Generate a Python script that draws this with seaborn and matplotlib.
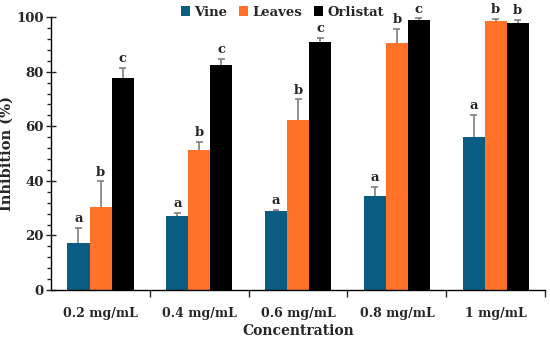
import numpy as np
import pandas as pd
import matplotlib
matplotlib.use('Agg')
import matplotlib.pyplot as plt
import seaborn as sns
from matplotlib.ticker import MultipleLocator

# data
concentrations = ['0.2 mg/mL', '0.4 mg/mL', '0.6 mg/mL', '0.8 mg/mL', '1 mg/mL']
groups = ['Vine', 'Leaves', 'Orlistat']
vine = [17.4, 27.2, 28.8, 34.6, 55.9]
leaves = [30.4, 51.4, 62.2, 90.4, 98.5]
orlistat = [77.7, 82.6, 90.7, 98.8, 97.7]
vine_err = [5.5, 1.2, 0.6, 3.1, 8.4]
leaves_err = [9.4, 2.9, 7.7, 5.2, 0.8]
orlistat_err = [3.8, 2.0, 1.7, 0.7, 1.3]
vine_sig = ['a', 'a', 'a', 'a', 'a']
leaves_sig = ['b', 'b', 'b', 'b', 'b']
orlistat_sig = ['c', 'c', 'c', 'c', 'b']

colors = ['#0a5c82', '#ff7227', '#000000']

sns.set_theme(style='white')
plt.rcParams['font.family'] = ['DejaVu Serif']
plt.rcParams['font.weight'] = 'bold'

df = pd.DataFrame({
    'Concentration': concentrations * 3,
    'Group': np.repeat(groups, len(concentrations)),
    'Value': vine + leaves + orlistat,
})
errs = [vine_err, leaves_err, orlistat_err]
sigs = [vine_sig, leaves_sig, orlistat_sig]

fig = plt.figure(figsize=(5.5, 3.42), dpi=100)
ax = fig.add_axes([0.093, 0.152, 0.898, 0.798])
sns.barplot(data=df, x='Concentration', y='Value', hue='Group', order=concentrations,
            hue_order=groups, palette=colors, width=0.67, saturation=1, errorbar=None,
            edgecolor='none', ax=ax)

# upward-only error bars with a cap, plus significance letters
for cont, err, sig in zip(ax.containers, errs, sigs):
    xs = np.array([p.get_x() + p.get_width() / 2 for p in cont])
    hs = np.array([p.get_height() for p in cont])
    tops = hs + np.array(err)
    ax.vlines(xs, hs, tops, color='#7f7f7f', lw=1.2, zorder=3)
    ax.hlines(tops, xs - 0.035, xs + 0.035, color='#7f7f7f', lw=1.2, zorder=3)
    for x, t, s in zip(xs, tops, sig):
        ax.text(x, t + 1.0, s, ha='center', va='bottom', fontsize=9.5, fontweight='bold')

ax.set_ylim(0, 100)
ax.set_xlim(-0.5, 4.5)
ax.yaxis.set_major_locator(MultipleLocator(20))
ax.yaxis.set_minor_locator(MultipleLocator(4))
ax.set_xticks(np.arange(len(concentrations)))
ax.set_xticklabels(concentrations)
ax.set_xticks(np.arange(len(concentrations)) + 0.5, minor=True)
ax.tick_params(axis='x', which='major', length=0, pad=12, labelsize=9)
ax.tick_params(axis='x', which='minor', direction='out', length=5, width=1, bottom=True)
ax.tick_params(axis='y', which='major', direction='inout', length=7, width=1, left=True,
               labelsize=9.5, pad=2)
ax.tick_params(axis='y', which='minor', direction='out', length=3, width=1, left=True)
for lab in ax.get_xticklabels() + ax.get_yticklabels():
    lab.set_fontweight('bold')

for side in ['top', 'right']:
    ax.spines[side].set_visible(False)
for side in ['left', 'bottom']:
    ax.spines[side].set_color('black')
    ax.spines[side].set_linewidth(1)

ax.set_xlabel('Concentration', fontsize=10, fontweight='bold', labelpad=3)
ax.set_ylabel('Inhibition (%)', fontsize=10.5, fontweight='bold', labelpad=2)
ax.yaxis.set_label_coords(-0.075, 0.5)

ax.legend(loc='center', bbox_to_anchor=(0.468, 1.018), ncol=3, frameon=False,
          handlelength=0.7, handleheight=0.7, handletextpad=0.3,
          columnspacing=0.9, borderaxespad=0, prop={'weight': 'bold', 'size': 9.5})

fig.savefig('out.png', dpi=100)
